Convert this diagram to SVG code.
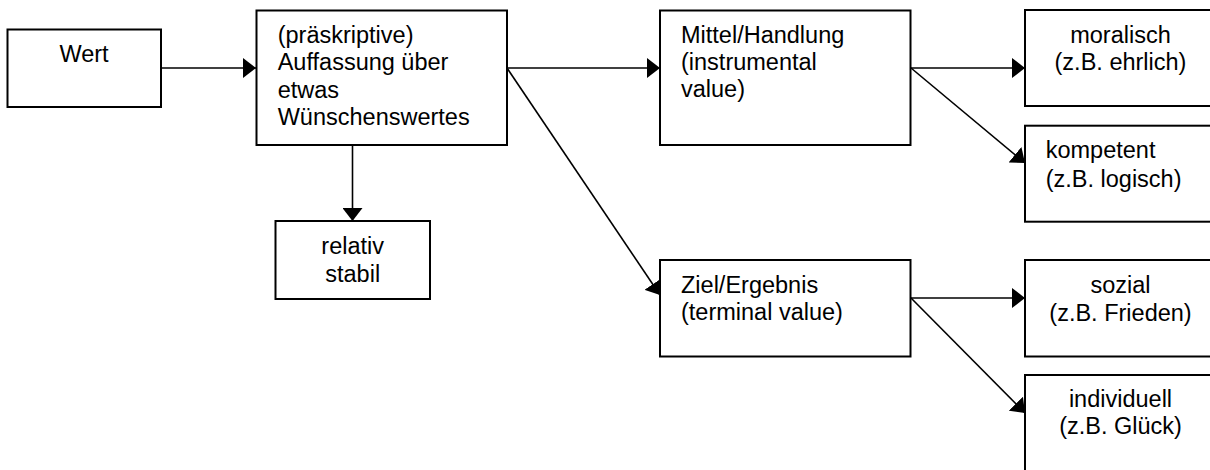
<svg xmlns="http://www.w3.org/2000/svg" width="1210" height="470" viewBox="0 0 1210 470">
  <style>
    .box { fill: #ffffff; stroke: #000000; stroke-width: 2; }
    .t { font-family: "Liberation Sans", Arial, sans-serif; font-size: 23.5px; fill: #000000; }
    .c { text-anchor: middle; }
    .edge { fill: none; stroke: #000000; stroke-width: 1.6; marker-end: url(#arrow); }
  </style>
  <defs>
    <marker id="arrow" markerUnits="userSpaceOnUse" markerWidth="14" markerHeight="20" refX="13" refY="10" orient="auto" viewBox="0 0 14 20">
      <path d="M0,0 L13,10 L0,20 Z" fill="#000000"/>
    </marker>
  </defs>
  <rect width="1210" height="470" fill="#ffffff"/>

  <g id="connectors">
    <path class="edge" d="M161,68 H256"/>
    <path class="edge" d="M507,68 H660"/>
    <path class="edge" d="M911,68 H1025"/>
    <path class="edge" d="M352.5,145 V221"/>
    <path class="edge" d="M507,68 L660,295"/>
    <path class="edge" d="M911,68 L1025,163"/>
    <path class="edge" d="M911,298 H1025"/>
    <path class="edge" d="M911,298 L1025,413"/>
  </g>

  <g id="node-wert">
    <rect class="box" x="7.5" y="29.5" width="153.5" height="77.5"/>
    <text class="t c" x="84" y="62">Wert</text>
  </g>

  <g id="node-auffassung">
    <rect class="box" x="256.5" y="10.5" width="250.5" height="134.5"/>
    <text class="t" x="277.7" y="42.7">(präskriptive)</text>
    <text class="t" x="277.7" y="70.3">Auffassung über</text>
    <text class="t" x="277.7" y="97.7">etwas</text>
    <text class="t" x="277.7" y="125">Wünschenswertes</text>
  </g>

  <g id="node-relativ">
    <rect class="box" x="275.5" y="221" width="154.5" height="78"/>
    <text class="t c" x="352.7" y="254">relativ</text>
    <text class="t c" x="352.7" y="281.7">stabil</text>
  </g>

  <g id="node-mittel">
    <rect class="box" x="660" y="10.5" width="250.5" height="134.5"/>
    <text class="t" x="681" y="42.7">Mittel/Handlung</text>
    <text class="t" x="681" y="70">(instrumental</text>
    <text class="t" x="681" y="97">value)</text>
  </g>

  <g id="node-ziel">
    <rect class="box" x="660" y="260" width="250.5" height="96.5"/>
    <text class="t" x="681" y="293.3">Ziel/Ergebnis</text>
    <text class="t" x="681" y="320">(terminal value)</text>
  </g>

  <g id="node-moralisch">
    <rect class="box" x="1025" y="10" width="200" height="96"/>
    <text class="t c" x="1120.5" y="42.7">moralisch</text>
    <text class="t c" x="1120.5" y="70">(z.B. ehrlich)</text>
  </g>

  <g id="node-kompetent">
    <rect class="box" x="1025" y="125.7" width="200" height="96"/>
    <text class="t" x="1045.7" y="158">kompetent</text>
    <text class="t" x="1045.7" y="186.7">(z.B. logisch)</text>
  </g>

  <g id="node-sozial">
    <rect class="box" x="1025" y="260" width="200" height="96.5"/>
    <text class="t c" x="1120.5" y="293.3">sozial</text>
    <text class="t c" x="1120.5" y="320.7">(z.B. Frieden)</text>
  </g>

  <g id="node-individuell">
    <rect class="box" x="1025" y="375" width="200" height="120"/>
    <text class="t c" x="1120.5" y="406.7">individuell</text>
    <text class="t c" x="1120.5" y="434">(z.B. Glück)</text>
  </g>
</svg>
